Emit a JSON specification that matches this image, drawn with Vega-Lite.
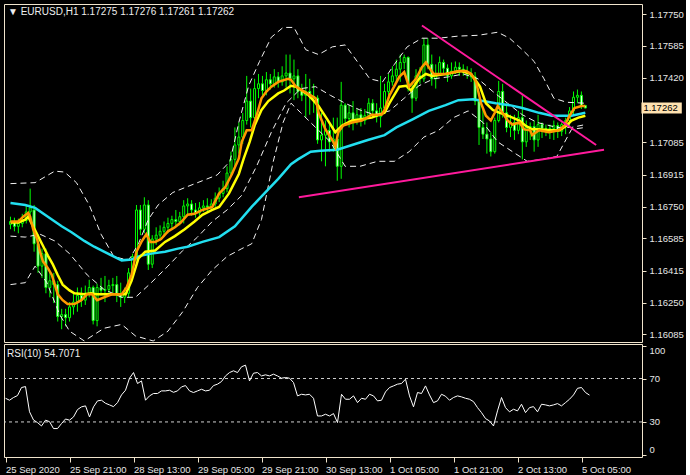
{
"$schema": "https://vega.github.io/schema/vega-lite/v6.json",
"background": "#000000",
"padding": {"left": 3, "top": 3, "right": 2, "bottom": 2},
"spacing": 2,
"bounds": "flush",
"config": {
 "view": {"stroke": "#f0e4cc", "strokeWidth": 1},
 "axis": {"labelFont": "Liberation Sans", "labelFontSize": 9.5, "labelColor": "#e6e6e6", "tickColor": "#f0e4cc", "tickSize": 4, "domain": false, "grid": false, "labelOverlap": false},
 "axisY": {"labelOverlap": false},
 "axisRight": {"labelOverlap": false}
},
"datasets": {
 "candles": [
{"i":0,"o":1.16657,"h":1.16697,"l":1.16632,"c":1.16672,"r":51.8},
{"i":1,"o":1.16672,"h":1.16692,"l":1.16621,"c":1.16647,"r":50.0},
{"i":2,"o":1.16647,"h":1.16687,"l":1.16611,"c":1.16662,"r":52.5},
{"i":3,"o":1.16662,"h":1.16712,"l":1.16642,"c":1.16677,"r":54.3},
{"i":4,"o":1.16677,"h":1.16758,"l":1.16662,"c":1.16722,"r":61.7},
{"i":5,"o":1.16722,"h":1.16843,"l":1.16682,"c":1.16743,"r":62.6},
{"i":6,"o":1.16732,"h":1.16758,"l":1.16515,"c":1.16556,"r":39.4},
{"i":7,"o":1.16556,"h":1.16606,"l":1.16405,"c":1.1644,"r":31.8},
{"i":8,"o":1.1644,"h":1.16531,"l":1.16379,"c":1.16505,"r":29.4},
{"i":9,"o":1.16505,"h":1.16531,"l":1.16299,"c":1.16329,"r":26.3},
{"i":10,"o":1.16329,"h":1.16405,"l":1.16278,"c":1.16364,"r":31.6},
{"i":11,"o":1.16364,"h":1.16405,"l":1.16248,"c":1.16344,"r":30.3},
{"i":12,"o":1.16344,"h":1.16364,"l":1.16152,"c":1.16178,"r":23.9},
{"i":13,"o":1.16178,"h":1.16218,"l":1.16112,"c":1.16188,"r":23.9},
{"i":14,"o":1.16188,"h":1.16218,"l":1.16127,"c":1.16172,"r":28.5},
{"i":15,"o":1.16172,"h":1.16253,"l":1.16152,"c":1.16228,"r":32.7},
{"i":16,"o":1.16228,"h":1.16304,"l":1.16188,"c":1.16253,"r":31.6},
{"i":17,"o":1.16253,"h":1.16329,"l":1.16203,"c":1.16288,"r":34.6},
{"i":18,"o":1.16288,"h":1.16329,"l":1.16228,"c":1.16263,"r":41.4},
{"i":19,"o":1.16263,"h":1.16339,"l":1.16238,"c":1.16299,"r":43.9},
{"i":20,"o":1.16299,"h":1.16369,"l":1.16278,"c":1.16329,"r":44.8},
{"i":21,"o":1.16329,"h":1.16339,"l":1.16137,"c":1.16157,"r":34.6},
{"i":22,"o":1.16157,"h":1.16349,"l":1.16127,"c":1.16329,"r":43.9},
{"i":23,"o":1.16329,"h":1.16379,"l":1.16288,"c":1.16314,"r":49.4},
{"i":24,"o":1.16314,"h":1.16389,"l":1.16253,"c":1.16319,"r":50.0},
{"i":25,"o":1.16319,"h":1.16369,"l":1.16288,"c":1.16339,"r":47.2},
{"i":26,"o":1.16339,"h":1.16379,"l":1.16299,"c":1.16344,"r":45.7},
{"i":27,"o":1.16344,"h":1.16389,"l":1.16253,"c":1.16294,"r":44.1},
{"i":28,"o":1.16294,"h":1.16354,"l":1.16228,"c":1.16278,"r":47.8},
{"i":29,"o":1.16278,"h":1.16329,"l":1.16248,"c":1.16299,"r":54.9},
{"i":30,"o":1.16299,"h":1.1643,"l":1.16278,"c":1.16405,"r":59.2},
{"i":31,"o":1.16405,"h":1.16505,"l":1.16369,"c":1.1649,"r":70.3},
{"i":32,"o":1.1649,"h":1.16758,"l":1.1647,"c":1.16732,"r":75.5},
{"i":33,"o":1.16732,"h":1.16758,"l":1.16601,"c":1.16632,"r":65.4},
{"i":34,"o":1.16632,"h":1.16798,"l":1.16611,"c":1.16758,"r":67.8},
{"i":35,"o":1.16758,"h":1.16783,"l":1.1642,"c":1.1645,"r":50.0},
{"i":36,"o":1.1645,"h":1.16601,"l":1.1643,"c":1.16581,"r":54.0},
{"i":37,"o":1.16581,"h":1.16642,"l":1.16551,"c":1.16601,"r":56.2},
{"i":38,"o":1.16601,"h":1.16652,"l":1.16571,"c":1.16621,"r":56.2},
{"i":39,"o":1.16621,"h":1.16672,"l":1.16591,"c":1.16642,"r":58.6},
{"i":40,"o":1.16642,"h":1.16692,"l":1.16611,"c":1.16662,"r":58.6},
{"i":41,"o":1.16662,"h":1.16702,"l":1.16632,"c":1.16682,"r":59.2},
{"i":42,"o":1.16682,"h":1.16732,"l":1.16652,"c":1.16672,"r":57.3},
{"i":43,"o":1.16672,"h":1.16722,"l":1.16652,"c":1.16697,"r":58.6},
{"i":44,"o":1.16697,"h":1.16783,"l":1.16662,"c":1.16753,"r":62.3},
{"i":45,"o":1.16753,"h":1.16793,"l":1.16707,"c":1.16763,"r":63.5},
{"i":46,"o":1.16763,"h":1.16783,"l":1.16702,"c":1.16732,"r":58.6},
{"i":47,"o":1.16732,"h":1.16768,"l":1.16692,"c":1.16717,"r":57.1},
{"i":48,"o":1.16717,"h":1.16773,"l":1.16702,"c":1.16743,"r":58.6},
{"i":49,"o":1.16743,"h":1.16783,"l":1.16722,"c":1.16753,"r":60.1},
{"i":50,"o":1.16753,"h":1.16793,"l":1.16722,"c":1.16748,"r":58.6},
{"i":51,"o":1.16748,"h":1.16788,"l":1.16732,"c":1.16763,"r":59.2},
{"i":52,"o":1.16763,"h":1.16823,"l":1.16748,"c":1.16793,"r":63.5},
{"i":53,"o":1.16793,"h":1.16849,"l":1.16773,"c":1.16818,"r":64.8},
{"i":54,"o":1.16818,"h":1.16884,"l":1.16798,"c":1.16843,"r":67.2},
{"i":55,"o":1.16843,"h":1.16959,"l":1.16823,"c":1.16924,"r":72.4},
{"i":56,"o":1.16924,"h":1.17035,"l":1.16904,"c":1.16995,"r":75.5},
{"i":57,"o":1.16995,"h":1.17161,"l":1.16959,"c":1.1707,"r":77.1},
{"i":58,"o":1.1707,"h":1.17187,"l":1.17025,"c":1.17111,"r":75.5},
{"i":59,"o":1.17111,"h":1.17237,"l":1.17076,"c":1.17197,"r":80.8},
{"i":60,"o":1.17197,"h":1.17429,"l":1.17176,"c":1.17298,"r":82.3},
{"i":61,"o":1.17298,"h":1.17363,"l":1.17161,"c":1.17212,"r":67.8},
{"i":62,"o":1.17212,"h":1.17414,"l":1.17197,"c":1.17363,"r":74.9},
{"i":63,"o":1.17363,"h":1.17439,"l":1.17313,"c":1.17388,"r":75.5},
{"i":64,"o":1.17388,"h":1.17429,"l":1.17328,"c":1.17353,"r":72.4},
{"i":65,"o":1.17353,"h":1.17449,"l":1.17328,"c":1.17409,"r":73.4},
{"i":66,"o":1.17409,"h":1.17439,"l":1.17358,"c":1.17388,"r":72.4},
{"i":67,"o":1.17388,"h":1.17464,"l":1.17368,"c":1.17424,"r":74.0},
{"i":68,"o":1.17424,"h":1.17449,"l":1.17368,"c":1.17398,"r":72.4},
{"i":69,"o":1.17398,"h":1.17479,"l":1.17378,"c":1.17429,"r":70.3},
{"i":70,"o":1.17429,"h":1.1754,"l":1.17368,"c":1.17444,"r":70.9},
{"i":71,"o":1.17444,"h":1.1754,"l":1.17338,"c":1.17414,"r":70.3},
{"i":72,"o":1.17414,"h":1.17514,"l":1.17303,"c":1.17429,"r":66.3},
{"i":73,"o":1.17429,"h":1.17464,"l":1.17313,"c":1.17348,"r":54.0},
{"i":74,"o":1.17348,"h":1.17388,"l":1.17298,"c":1.17328,"r":55.5},
{"i":75,"o":1.17328,"h":1.17439,"l":1.17212,"c":1.17348,"r":54.9},
{"i":76,"o":1.17348,"h":1.17414,"l":1.17227,"c":1.17323,"r":55.5},
{"i":77,"o":1.17323,"h":1.17388,"l":1.17237,"c":1.17313,"r":51.8},
{"i":78,"o":1.17313,"h":1.17328,"l":1.17076,"c":1.17096,"r":35.5},
{"i":79,"o":1.17096,"h":1.17237,"l":1.16985,"c":1.17121,"r":35.5},
{"i":80,"o":1.17121,"h":1.17197,"l":1.16959,"c":1.17146,"r":37.1},
{"i":81,"o":1.17146,"h":1.17176,"l":1.17035,"c":1.17086,"r":35.5},
{"i":82,"o":1.17086,"h":1.17212,"l":1.17035,"c":1.17101,"r":37.7},
{"i":83,"o":1.17101,"h":1.17212,"l":1.16884,"c":1.16959,"r":29.4},
{"i":84,"o":1.16959,"h":1.17398,"l":1.16894,"c":1.17277,"r":55.5},
{"i":85,"o":1.17277,"h":1.17287,"l":1.17176,"c":1.17207,"r":50.9},
{"i":86,"o":1.17207,"h":1.17277,"l":1.17161,"c":1.17237,"r":50.9},
{"i":87,"o":1.17237,"h":1.17298,"l":1.17146,"c":1.17202,"r":54.0},
{"i":88,"o":1.17202,"h":1.17257,"l":1.17176,"c":1.17227,"r":47.8},
{"i":89,"o":1.17227,"h":1.17262,"l":1.17166,"c":1.17197,"r":51.8},
{"i":90,"o":1.17197,"h":1.17257,"l":1.17176,"c":1.17222,"r":50.9},
{"i":91,"o":1.17222,"h":1.17313,"l":1.17207,"c":1.17287,"r":55.5},
{"i":92,"o":1.17287,"h":1.17308,"l":1.17212,"c":1.17247,"r":54.0},
{"i":93,"o":1.17247,"h":1.17287,"l":1.17187,"c":1.17217,"r":49.4},
{"i":94,"o":1.17217,"h":1.17429,"l":1.17161,"c":1.17262,"r":50.0},
{"i":95,"o":1.17262,"h":1.17388,"l":1.17237,"c":1.17348,"r":57.7},
{"i":96,"o":1.17348,"h":1.17439,"l":1.17323,"c":1.17398,"r":61.7},
{"i":97,"o":1.17398,"h":1.17479,"l":1.17378,"c":1.17429,"r":63.2},
{"i":98,"o":1.17429,"h":1.17514,"l":1.17388,"c":1.17464,"r":64.8},
{"i":99,"o":1.17464,"h":1.1754,"l":1.17398,"c":1.17499,"r":65.4},
{"i":100,"o":1.17499,"h":1.1754,"l":1.17464,"c":1.17525,"r":69.4},
{"i":101,"o":1.17525,"h":1.1753,"l":1.17348,"c":1.17363,"r":54.0},
{"i":102,"o":1.17363,"h":1.17398,"l":1.17237,"c":1.17313,"r":43.9},
{"i":103,"o":1.17313,"h":1.17464,"l":1.17298,"c":1.17429,"r":57.1},
{"i":104,"o":1.17429,"h":1.17474,"l":1.17388,"c":1.17414,"r":56.2},
{"i":105,"o":1.17414,"h":1.17625,"l":1.17398,"c":1.1759,"r":63.2},
{"i":106,"o":1.1759,"h":1.17625,"l":1.17464,"c":1.17489,"r":54.9},
{"i":107,"o":1.17489,"h":1.1754,"l":1.17378,"c":1.17414,"r":47.8},
{"i":108,"o":1.17414,"h":1.17489,"l":1.17363,"c":1.17439,"r":49.4},
{"i":109,"o":1.17439,"h":1.1753,"l":1.17429,"c":1.17499,"r":55.5},
{"i":110,"o":1.17499,"h":1.17514,"l":1.17439,"c":1.17469,"r":53.7},
{"i":111,"o":1.17469,"h":1.17489,"l":1.17398,"c":1.17429,"r":50.0},
{"i":112,"o":1.17429,"h":1.17499,"l":1.17414,"c":1.17454,"r":52.5},
{"i":113,"o":1.17454,"h":1.17504,"l":1.17439,"c":1.17474,"r":54.0},
{"i":114,"o":1.17474,"h":1.17499,"l":1.17429,"c":1.17464,"r":53.1},
{"i":115,"o":1.17464,"h":1.17489,"l":1.17429,"c":1.17449,"r":51.8},
{"i":116,"o":1.17449,"h":1.17479,"l":1.17414,"c":1.17439,"r":50.9},
{"i":117,"o":1.17439,"h":1.17469,"l":1.17398,"c":1.17424,"r":48.7},
{"i":118,"o":1.17424,"h":1.17449,"l":1.17277,"c":1.17298,"r":43.2},
{"i":119,"o":1.17298,"h":1.17313,"l":1.1707,"c":1.17161,"r":38.6},
{"i":120,"o":1.17161,"h":1.17262,"l":1.17101,"c":1.17126,"r":33.1},
{"i":121,"o":1.17126,"h":1.17187,"l":1.17025,"c":1.17101,"r":30.9},
{"i":122,"o":1.17101,"h":1.17136,"l":1.1701,"c":1.17035,"r":26.3},
{"i":123,"o":1.17035,"h":1.17212,"l":1.17025,"c":1.17197,"r":40.2},
{"i":124,"o":1.17197,"h":1.17403,"l":1.17187,"c":1.17348,"r":52.5},
{"i":125,"o":1.17348,"h":1.17388,"l":1.17212,"c":1.17237,"r":43.2},
{"i":126,"o":1.17237,"h":1.17287,"l":1.17136,"c":1.17161,"r":39.3},
{"i":127,"o":1.17161,"h":1.17227,"l":1.17111,"c":1.17187,"r":41.7},
{"i":128,"o":1.17187,"h":1.17227,"l":1.17096,"c":1.17146,"r":40.2},
{"i":129,"o":1.17146,"h":1.17247,"l":1.17126,"c":1.17212,"r":46.3},
{"i":130,"o":1.17212,"h":1.17328,"l":1.16995,"c":1.17086,"r":38.6},
{"i":131,"o":1.17086,"h":1.17197,"l":1.1706,"c":1.17161,"r":43.2},
{"i":132,"o":1.17161,"h":1.17187,"l":1.17096,"c":1.17166,"r":44.1},
{"i":133,"o":1.17166,"h":1.17197,"l":1.17035,"c":1.17096,"r":39.3},
{"i":134,"o":1.17096,"h":1.17227,"l":1.1706,"c":1.17176,"r":46.3},
{"i":135,"o":1.17176,"h":1.17187,"l":1.17106,"c":1.17156,"r":45.7},
{"i":136,"o":1.17156,"h":1.17176,"l":1.17116,"c":1.17141,"r":44.8},
{"i":137,"o":1.17141,"h":1.17176,"l":1.17101,"c":1.17156,"r":45.7},
{"i":138,"o":1.17156,"h":1.17197,"l":1.17096,"c":1.17171,"r":46.9},
{"i":139,"o":1.17171,"h":1.17187,"l":1.17106,"c":1.17141,"r":44.8},
{"i":140,"o":1.17141,"h":1.17187,"l":1.17116,"c":1.17176,"r":47.8},
{"i":141,"o":1.17176,"h":1.17212,"l":1.17126,"c":1.17197,"r":50.9},
{"i":142,"o":1.17197,"h":1.17267,"l":1.17166,"c":1.17247,"r":54.9},
{"i":143,"o":1.17247,"h":1.17348,"l":1.17227,"c":1.17318,"r":61.0},
{"i":144,"o":1.17318,"h":1.17358,"l":1.17287,"c":1.17328,"r":61.7},
{"i":145,"o":1.17328,"h":1.17348,"l":1.17257,"c":1.17275,"r":57.1},
{"i":146,"o":1.17275,"h":1.17276,"l":1.17261,"c":1.17262,"r":54.7071}
 ],
 "fast": [{"i":0,"p":1.16672},{"i":2,"p":1.16672},{"i":3.25,"p":1.16697},{"i":4.5,"p":1.16717},{"i":5,"p":1.16697},{"i":5.75,"p":1.16632},{"i":6.75,"p":1.16581},{"i":7.5,"p":1.16515},{"i":8.25,"p":1.16465},{"i":9.5,"p":1.1643},{"i":10.5,"p":1.16394},{"i":11.25,"p":1.16344},{"i":12,"p":1.16294},{"i":13.25,"p":1.16263},{"i":14.5,"p":1.16243},{"i":16.25,"p":1.16243},{"i":18,"p":1.16263},{"i":19.5,"p":1.16294},{"i":20.75,"p":1.16294},{"i":22,"p":1.16263},{"i":23.75,"p":1.16278},{"i":25.75,"p":1.16294},{"i":28.25,"p":1.16294},{"i":29.5,"p":1.16329},{"i":30.75,"p":1.16394},{"i":32,"p":1.16515},{"i":33.25,"p":1.16566},{"i":34.5,"p":1.16606},{"i":35.5,"p":1.16566},{"i":36.75,"p":1.16566},{"i":38.25,"p":1.16581},{"i":40,"p":1.16621},{"i":41.75,"p":1.16642},{"i":43.25,"p":1.16667},{"i":45,"p":1.16707},{"i":46.75,"p":1.16712},{"i":48.75,"p":1.16732},{"i":51.25,"p":1.16748},{"i":53,"p":1.16818},{"i":54.5,"p":1.16849},{"i":56.25,"p":1.16919},{"i":58,"p":1.17},{"i":58.75,"p":1.17086},{"i":60,"p":1.17146},{"i":61.25,"p":1.17146},{"i":62.5,"p":1.17222},{"i":63.75,"p":1.17313},{"i":65,"p":1.17348},{"i":66.25,"p":1.17373},{"i":68,"p":1.17398},{"i":70.5,"p":1.17414},{"i":71.25,"p":1.17409},{"i":72.5,"p":1.17373},{"i":76.25,"p":1.17328},{"i":77.5,"p":1.17313},{"i":78.25,"p":1.17237},{"i":80,"p":1.17151},{"i":82,"p":1.17086},{"i":82.5,"p":1.1706},{"i":83.25,"p":1.17136},{"i":84.5,"p":1.17171},{"i":86.75,"p":1.17187},{"i":89.25,"p":1.17197},{"i":91.75,"p":1.17227},{"i":94.25,"p":1.17227},{"i":95,"p":1.17252},{"i":96.25,"p":1.17328},{"i":98.75,"p":1.17424},{"i":100,"p":1.17449},{"i":101.25,"p":1.17373},{"i":103,"p":1.17414},{"i":104.5,"p":1.17474},{"i":105.5,"p":1.17499},{"i":106.25,"p":1.17474},{"i":107.5,"p":1.17439},{"i":110.5,"p":1.17439},{"i":113.75,"p":1.17454},{"i":115.75,"p":1.17454},{"i":117,"p":1.17439},{"i":118.25,"p":1.17398},{"i":119.5,"p":1.17287},{"i":120.75,"p":1.17222},{"i":122,"p":1.17197},{"i":123,"p":1.17237},{"i":123.75,"p":1.17272},{"i":125,"p":1.17237},{"i":126.25,"p":1.17197},{"i":127.5,"p":1.17176},{"i":129.25,"p":1.17187},{"i":130.5,"p":1.17151},{"i":132,"p":1.17146},{"i":132.5,"p":1.17121},{"i":134.25,"p":1.17146},{"i":136.75,"p":1.17136},{"i":139.25,"p":1.17146},{"i":140.75,"p":1.17171},{"i":142,"p":1.17222},{"i":143.25,"p":1.17262},{"i":145,"p":1.17272},{"i":146,"p":1.17272}],
 "slow": [{"i":0,"p":1.16667},{"i":2,"p":1.16667},{"i":3.75,"p":1.16682},{"i":4.5,"p":1.16697},{"i":5.75,"p":1.16647},{"i":7,"p":1.16596},{"i":8.25,"p":1.16546},{"i":9.5,"p":1.16495},{"i":10.75,"p":1.16449},{"i":12,"p":1.16394},{"i":13.25,"p":1.16344},{"i":15,"p":1.16314},{"i":16.25,"p":1.16299},{"i":18.75,"p":1.16294},{"i":20.5,"p":1.16299},{"i":21.75,"p":1.16294},{"i":23.75,"p":1.16294},{"i":26.75,"p":1.16294},{"i":29.25,"p":1.16294},{"i":30.75,"p":1.16364},{"i":32.5,"p":1.1648},{"i":34.25,"p":1.16515},{"i":36.75,"p":1.16521},{"i":39.25,"p":1.16566},{"i":41.75,"p":1.16596},{"i":44.25,"p":1.16632},{"i":46.75,"p":1.16672},{"i":48.75,"p":1.16707},{"i":51.25,"p":1.16732},{"i":53,"p":1.16748},{"i":55.5,"p":1.16818},{"i":58,"p":1.16919},{"i":59.25,"p":1.17},{"i":60.75,"p":1.17086},{"i":62,"p":1.17171},{"i":63.75,"p":1.17252},{"i":65.5,"p":1.17298},{"i":68,"p":1.17338},{"i":69.5,"p":1.17353},{"i":71.25,"p":1.17378},{"i":72.5,"p":1.17373},{"i":75.75,"p":1.17328},{"i":78.25,"p":1.17272},{"i":80.5,"p":1.17202},{"i":82.5,"p":1.17136},{"i":84.25,"p":1.17171},{"i":86.75,"p":1.17197},{"i":91.75,"p":1.17212},{"i":95,"p":1.17237},{"i":96.25,"p":1.17287},{"i":98.75,"p":1.17373},{"i":100.5,"p":1.17378},{"i":101.75,"p":1.17353},{"i":103.75,"p":1.17414},{"i":105.5,"p":1.17439},{"i":107,"p":1.17429},{"i":110.5,"p":1.17439},{"i":114.5,"p":1.17454},{"i":117,"p":1.17439},{"i":119.25,"p":1.17373},{"i":120.75,"p":1.17287},{"i":122.5,"p":1.17252},{"i":124.25,"p":1.17237},{"i":125.75,"p":1.17227},{"i":127.5,"p":1.17212},{"i":129.25,"p":1.17197},{"i":130.75,"p":1.17171},{"i":132.5,"p":1.17151},{"i":134.25,"p":1.17151},{"i":136.75,"p":1.17146},{"i":139.5,"p":1.17146},{"i":141.25,"p":1.17171},{"i":142.5,"p":1.17197},{"i":144.25,"p":1.17212},{"i":146,"p":1.17222}],
 "ma": [{"i":0,"p":1.16768},{"i":3.75,"p":1.16758},{"i":6.25,"p":1.16743},{"i":9.5,"p":1.16697},{"i":13,"p":1.16647},{"i":15.5,"p":1.16616},{"i":18.75,"p":1.16571},{"i":21.25,"p":1.16541},{"i":23.75,"p":1.16515},{"i":28.25,"p":1.1647},{"i":30.75,"p":1.16475},{"i":33.25,"p":1.16495},{"i":35.75,"p":1.16505},{"i":39.25,"p":1.16515},{"i":42.5,"p":1.16531},{"i":45,"p":1.16541},{"i":48.75,"p":1.16566},{"i":53,"p":1.16591},{"i":57,"p":1.16647},{"i":61.25,"p":1.16748},{"i":64.5,"p":1.16818},{"i":68,"p":1.16894},{"i":71.25,"p":1.1697},{"i":73,"p":1.16995},{"i":76.25,"p":1.17035},{"i":78.75,"p":1.1704},{"i":83,"p":1.17045},{"i":86.75,"p":1.1707},{"i":90.75,"p":1.17096},{"i":95,"p":1.17121},{"i":98,"p":1.17161},{"i":102,"p":1.17202},{"i":106.25,"p":1.17247},{"i":110.5,"p":1.17277},{"i":113.75,"p":1.17303},{"i":117.5,"p":1.17308},{"i":120,"p":1.17298},{"i":123.25,"p":1.17287},{"i":126.75,"p":1.17277},{"i":130,"p":1.17262},{"i":134.25,"p":1.17237},{"i":137.5,"p":1.17222},{"i":142.5,"p":1.17222},{"i":146,"p":1.17237}],
 "bbu": [{"i":0,"p":1.16869},{"i":6.25,"p":1.16874},{"i":11.25,"p":1.16934},{"i":13.75,"p":1.16929},{"i":16.75,"p":1.16874},{"i":20,"p":1.16758},{"i":23,"p":1.16606},{"i":26.25,"p":1.1649},{"i":30,"p":1.1647},{"i":32.5,"p":1.16556},{"i":35,"p":1.16682},{"i":37.5,"p":1.16758},{"i":41.25,"p":1.16823},{"i":45,"p":1.16854},{"i":48.75,"p":1.16884},{"i":52.5,"p":1.16914},{"i":55.75,"p":1.16985},{"i":58,"p":1.17187},{"i":60.5,"p":1.17378},{"i":63.25,"p":1.17504},{"i":66.25,"p":1.1763},{"i":69.25,"p":1.17681},{"i":72,"p":1.17681},{"i":75,"p":1.17565},{"i":78.25,"p":1.1754},{"i":81.75,"p":1.1758},{"i":85,"p":1.1759},{"i":88.25,"p":1.17499},{"i":91.25,"p":1.17414},{"i":94.5,"p":1.17398},{"i":97.5,"p":1.17489},{"i":100.75,"p":1.1758},{"i":104.5,"p":1.17625},{"i":108.75,"p":1.17625},{"i":113.75,"p":1.17636},{"i":118.75,"p":1.1764},{"i":123.75,"p":1.17656},{"i":126.75,"p":1.17625},{"i":130,"p":1.17565},{"i":133,"p":1.17504},{"i":135.5,"p":1.17414},{"i":138,"p":1.17313},{"i":141.25,"p":1.17292},{"i":146,"p":1.17287}],
 "bbm": [{"i":0,"p":1.16596},{"i":3.75,"p":1.16591},{"i":7.5,"p":1.16606},{"i":11.25,"p":1.16571},{"i":15,"p":1.16505},{"i":19.5,"p":1.16394},{"i":23.75,"p":1.16319},{"i":28.25,"p":1.16278},{"i":31.75,"p":1.16278},{"i":35.75,"p":1.16354},{"i":40,"p":1.1644},{"i":43.75,"p":1.16521},{"i":47.5,"p":1.16591},{"i":51.25,"p":1.16672},{"i":55,"p":1.16732},{"i":58.75,"p":1.16808},{"i":62.5,"p":1.16959},{"i":66.25,"p":1.17136},{"i":70,"p":1.17287},{"i":73.75,"p":1.17363},{"i":77.5,"p":1.17373},{"i":81.25,"p":1.17328},{"i":85,"p":1.17287},{"i":88.75,"p":1.17252},{"i":92.5,"p":1.17227},{"i":96.25,"p":1.17247},{"i":100,"p":1.17313},{"i":103.75,"p":1.17378},{"i":107.5,"p":1.17414},{"i":111.25,"p":1.17424},{"i":115,"p":1.17439},{"i":118.75,"p":1.17414},{"i":122.5,"p":1.17348},{"i":126.25,"p":1.17287},{"i":130,"p":1.17227},{"i":133.75,"p":1.17187},{"i":138.75,"p":1.17161},{"i":142.5,"p":1.17161},{"i":146,"p":1.17176}],
 "bbl": [{"i":0,"p":1.16344},{"i":3.75,"p":1.16354},{"i":6.25,"p":1.1644},{"i":9.25,"p":1.16354},{"i":12.5,"p":1.16188},{"i":15,"p":1.16102},{"i":18.75,"p":1.16051},{"i":23.75,"p":1.16117},{"i":28.25,"p":1.16137},{"i":31.75,"p":1.16077},{"i":36.25,"p":1.16051},{"i":40,"p":1.16102},{"i":43.75,"p":1.16203},{"i":47.5,"p":1.16329},{"i":51.25,"p":1.1642},{"i":55,"p":1.1649},{"i":58.75,"p":1.16531},{"i":61.25,"p":1.16556},{"i":63.75,"p":1.16682},{"i":66.75,"p":1.16985},{"i":69.25,"p":1.17187},{"i":71.25,"p":1.17287},{"i":73.75,"p":1.17237},{"i":77.5,"p":1.17161},{"i":81.25,"p":1.17086},{"i":85,"p":1.16959},{"i":88.75,"p":1.16959},{"i":93.25,"p":1.16985},{"i":97.5,"p":1.16985},{"i":101.25,"p":1.17035},{"i":105,"p":1.17111},{"i":108.75,"p":1.17146},{"i":112.5,"p":1.17212},{"i":116.25,"p":1.17247},{"i":120,"p":1.17187},{"i":123.75,"p":1.17086},{"i":127.5,"p":1.17035},{"i":131.25,"p":1.16985},{"i":135,"p":1.16995},{"i":138.75,"p":1.1701},{"i":142.5,"p":1.17151},{"i":146,"p":1.17161}],
 "tl": [{"id":"a","i":104.5,"p":1.17691},{"id":"a","i":148.75,"p":1.1707},{"id":"b","i":73.25,"p":1.16798},{"id":"b","i":150.75,"p":1.17045}]
},
"vconcat": [
 {
  "width": 638, "height": 338,
  "title": {"text": "▼  EURUSD,H1  1.17275 1.17276 1.17261 1.17262", "anchor": "start", "frame": "group", "offset": -13, "dx": 4, "color": "#eeeeee", "font": "Liberation Sans", "fontSize": 10, "fontWeight": "normal"},
  "layer": [
   {"data": {"name": "candles"}, "mark": {"type": "rule", "color": "#00ff00", "strokeWidth": 1, "clip": true},
    "encoding": {
     "x": {"field": "i", "type": "quantitative", "scale": {"domain": [-0.375, 159.125], "nice": false, "zero": false}, "axis": null},
     "y": {"field": "l", "type": "quantitative", "scale": {"domain": [1.160716, 1.177768], "nice": false, "zero": false}, "axis": {"orient": "right", "values": [1.1775, 1.17585, 1.1742, 1.17085, 1.16915, 1.1675, 1.16585, 1.16415, 1.1625, 1.16085], "format": ".5f", "labelPadding": 3, "labelOverlap": false}, "title": null},
     "y2": {"field": "h"}}},
   {"data": {"name": "candles"}, "mark": {"type": "bar", "width": 2, "stroke": "#00ff00", "strokeWidth": 1, "clip": true},
    "encoding": {
     "x": {"field": "i", "type": "quantitative", "axis": null},
     "y": {"field": "o", "type": "quantitative", "axis": {"orient": "right", "values": [1.1775, 1.17585, 1.1742, 1.17085, 1.16915, 1.1675, 1.16585, 1.16415, 1.1625, 1.16085], "format": ".5f", "labelPadding": 3, "labelOverlap": false}, "title": null},
     "y2": {"field": "c"},
     "fill": {"condition": {"test": "datum.c < datum.o", "value": "#ffffff"}, "value": "#000000"}}},
   {"data": {"name": "bbu"}, "mark": {"type": "line", "color": "#f2f2f2", "strokeWidth": 1, "strokeDash": [6, 4], "clip": true},
    "encoding": {"x": {"field": "i", "type": "quantitative", "axis": null}, "y": {"field": "p", "type": "quantitative", "axis": {"orient": "right", "values": [1.1775, 1.17585, 1.1742, 1.17085, 1.16915, 1.1675, 1.16585, 1.16415, 1.1625, 1.16085], "format": ".5f", "labelPadding": 3, "labelOverlap": false}, "title": null}}},
   {"data": {"name": "bbm"}, "mark": {"type": "line", "color": "#f2f2f2", "strokeWidth": 1, "strokeDash": [6, 4], "clip": true},
    "encoding": {"x": {"field": "i", "type": "quantitative", "axis": null}, "y": {"field": "p", "type": "quantitative", "axis": {"orient": "right", "values": [1.1775, 1.17585, 1.1742, 1.17085, 1.16915, 1.1675, 1.16585, 1.16415, 1.1625, 1.16085], "format": ".5f", "labelPadding": 3, "labelOverlap": false}, "title": null}}},
   {"data": {"name": "bbl"}, "mark": {"type": "line", "color": "#f2f2f2", "strokeWidth": 1, "strokeDash": [6, 4], "clip": true},
    "encoding": {"x": {"field": "i", "type": "quantitative", "axis": null}, "y": {"field": "p", "type": "quantitative", "axis": {"orient": "right", "values": [1.1775, 1.17585, 1.1742, 1.17085, 1.16915, 1.1675, 1.16585, 1.16415, 1.1625, 1.16085], "format": ".5f", "labelPadding": 3, "labelOverlap": false}, "title": null}}},
   {"data": {"name": "ma"}, "mark": {"type": "line", "color": "#22dff0", "strokeWidth": 2.5, "clip": true},
    "encoding": {"x": {"field": "i", "type": "quantitative", "axis": null}, "y": {"field": "p", "type": "quantitative", "axis": {"orient": "right", "values": [1.1775, 1.17585, 1.1742, 1.17085, 1.16915, 1.1675, 1.16585, 1.16415, 1.1625, 1.16085], "format": ".5f", "labelPadding": 3, "labelOverlap": false}, "title": null}}},
   {"data": {"name": "slow"}, "mark": {"type": "line", "color": "#ffff00", "strokeWidth": 2.5, "clip": true},
    "encoding": {"x": {"field": "i", "type": "quantitative", "axis": null}, "y": {"field": "p", "type": "quantitative", "axis": {"orient": "right", "values": [1.1775, 1.17585, 1.1742, 1.17085, 1.16915, 1.1675, 1.16585, 1.16415, 1.1625, 1.16085], "format": ".5f", "labelPadding": 3, "labelOverlap": false}, "title": null}}},
   {"data": {"name": "fast"}, "mark": {"type": "line", "color": "#ff9900", "strokeWidth": 2.5, "clip": true},
    "encoding": {"x": {"field": "i", "type": "quantitative", "axis": null}, "y": {"field": "p", "type": "quantitative", "axis": {"orient": "right", "values": [1.1775, 1.17585, 1.1742, 1.17085, 1.16915, 1.1675, 1.16585, 1.16415, 1.1625, 1.16085], "format": ".5f", "labelPadding": 3, "labelOverlap": false}, "title": null}}},
   {"data": {"name": "tl"}, "mark": {"type": "line", "color": "#ff1a9c", "strokeWidth": 2, "clip": true},
    "encoding": {"x": {"field": "i", "type": "quantitative", "axis": null}, "y": {"field": "p", "type": "quantitative", "axis": {"orient": "right", "values": [1.1775, 1.17585, 1.1742, 1.17085, 1.16915, 1.1675, 1.16585, 1.16415, 1.1625, 1.16085], "format": ".5f", "labelPadding": 3, "labelOverlap": false}, "title": null}, "detail": {"field": "id"}}},
   {"data": {"values": [{"p": 1.17262, "t": "1.17262"}]},
    "layer": [
     {"mark": {"type": "bar", "height": 11, "color": "#ffe2b0", "clip": false},
      "encoding": {"x": {"datum": 160.25, "type": "quantitative", "axis": null}, "x2": {"datum": 170.5}, "y": {"field": "p", "type": "quantitative", "axis": {"orient": "right", "values": [1.1775, 1.17585, 1.1742, 1.17085, 1.16915, 1.1675, 1.16585, 1.16415, 1.1625, 1.16085], "format": ".5f", "labelPadding": 3, "labelOverlap": false}, "title": null}}},
     {"mark": {"type": "text", "align": "left", "baseline": "middle", "color": "#000000", "font": "Liberation Sans", "fontSize": 9.5, "dx": 1, "clip": false},
      "encoding": {"x": {"datum": 160.5, "type": "quantitative", "axis": null}, "y": {"field": "p", "type": "quantitative", "axis": {"orient": "right", "values": [1.1775, 1.17585, 1.1742, 1.17085, 1.16915, 1.1675, 1.16585, 1.16415, 1.1625, 1.16085], "format": ".5f", "labelPadding": 3, "labelOverlap": false}, "title": null}, "text": {"field": "t"}}}
    ]}
  ]
 },
 {
  "width": 638, "height": 113,
  "title": {"text": "RSI(10) 54.7071", "anchor": "start", "frame": "group", "offset": -15, "dx": 3, "color": "#eeeeee", "font": "Liberation Sans", "fontSize": 10, "fontWeight": "normal"},
  "layer": [
   {"data": {"values": [{"lvl": 30}, {"lvl": 70}]}, "mark": {"type": "rule", "color": "#d0d0d0", "strokeWidth": 1, "strokeDash": [3, 3]},
    "encoding": {"y": {"field": "lvl", "type": "quantitative", "scale": {"domain": [-2.3, 101.8], "nice": false, "zero": false},
      "axis": {"orient": "right", "values": [0.001, 30, 70, 100], "format": "d", "labelPadding": 3, "labelOverlap": false, "labelBaseline": {"condition": [{"test": "datum.value > 90", "value": "top"}, {"test": "datum.value < 1", "value": "bottom"}], "value": "middle"}}, "title": null}}},
   {"data": {"name": "candles"}, "mark": {"type": "line", "color": "#ffffff", "strokeWidth": 1, "clip": true},
    "encoding": {
     "x": {"field": "i", "type": "quantitative", "scale": {"domain": [-0.375, 159.125], "nice": false, "zero": false},
      "axis": {"orient": "bottom", "values": [0, 16, 32, 48, 64, 80, 96, 112, 128, 144], "labelExpr": "['25 Sep 2020','25 Sep 21:00','28 Sep 13:00','29 Sep 05:00','29 Sep 21:00','30 Sep 13:00','1 Oct 05:00','1 Oct 21:00','2 Oct 13:00','5 Oct 05:00'][round(datum.value/16)]", "labelAlign": "left", "labelBaseline": "top", "labelPadding": 2, "labelFlush": false, "labelOverlap": false, "tickSize": 5}, "title": null},
     "y": {"field": "r", "type": "quantitative", "axis": {"orient": "right", "values": [0.001, 30, 70, 100], "format": "d", "labelPadding": 3, "labelOverlap": false, "labelBaseline": {"condition": [{"test": "datum.value > 90", "value": "top"}, {"test": "datum.value < 1", "value": "bottom"}], "value": "middle"}}, "title": null}}}
  ]
 }
]
}
